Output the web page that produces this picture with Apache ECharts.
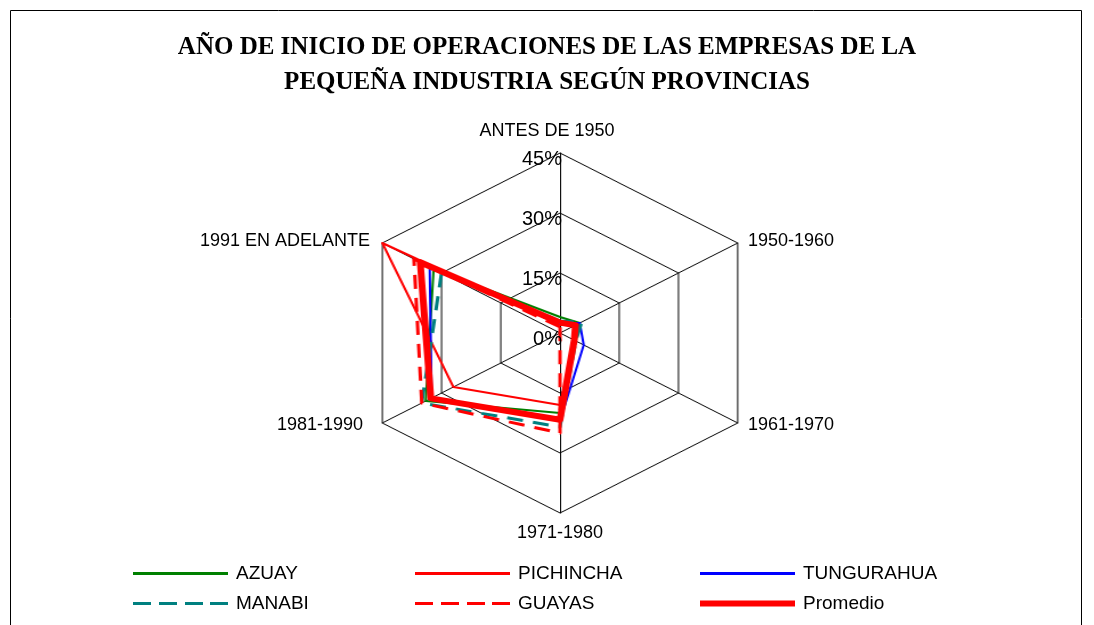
<!DOCTYPE html>
<html>
<head>
<meta charset="utf-8">
<script src="https://cdn.jsdelivr.net/npm/echarts@6/dist/echarts.min.js"></script>
<style>
  body { margin: 0; background: #fff; }
  #wrap { position: relative; width: 1094px; height: 625px; overflow: hidden; background: #fff; }
  /* la red radial del original está más ancha que alta */
  #radar { position: absolute; left: 0; top: 0; width: 1094px; height: 625px; transform: scaleX(1.14); transform-origin: 560px 0; }
  #texts { position: absolute; left: 0; top: 0; width: 1094px; height: 625px; }
</style>
</head>
<body>
<div id="wrap">
  <div id="radar"></div>
  <div id="texts"></div>
</div>
<script>
// categorías en orden cronológico
const categories = ['ANTES DE 1950', '1950-1960', '1961-1970', '1971-1980', '1981-1990', '1991 EN ADELANTE'];
// valores en %
const azuay      = [4,   5,   4,   20,   34,   32];
const pichincha  = [2,   4,   4,   18,   27,   45];
const tungurahua = [2.5, 5,   6,   22,   32.5, 33];
const manabi     = [3,   5.5, 4,   23.5, 35,   30];
const guayas     = [1.5, 0,   0,   25,   35,   37];
const promedio   = [2.6, 3.9, 3.6, 21.7, 32.7, 35.4];
const ticks = [0, 15, 30, 45];

const seriesNames = ['AZUAY', 'PICHINCHA', 'TUNGURAHUA', 'MANABI', 'GUAYAS', 'Promedio'];
const seriesData = [azuay, pichincha, tungurahua, manabi, guayas, promedio];

// estilos
const styles = [
  { color: '#008000', width: 2, type: 'solid' },
  { color: '#ff0000', width: 2, type: 'solid' },
  { color: '#0000ff', width: 2, type: 'solid' },
  { color: '#008080', width: 3, type: [14, 9] },
  { color: '#ff0000', width: 3, type: [14, 9] },
  { color: '#ff0000', width: 6, type: 'solid' }
];
const legendIcons = [
  'path://M0,0h95v3h-95z',
  'path://M0,0h95v3h-95z',
  'path://M0,0h95v3h-95z',
  'path://M0,0h18v3h-18zM26,0h18v3h-18zM52,0h18v3h-18zM77,0h18v3h-18z',
  'path://M0,0h18v3h-18zM26,0h18v3h-18zM52,0h18v3h-18zM77,0h18v3h-18z',
  'path://M0,0h95v6h-95z'
];
const legendPos = [
  { left: 133, top: 564, h: 3 }, { left: 415, top: 564, h: 3 }, { left: 700, top: 564, h: 3 },
  { left: 133, top: 594, h: 3 }, { left: 415, top: 594, h: 3 }, { left: 700, top: 594, h: 6 }
];
// nombres de los ejes
const namePos = [
  { x: 547, y: 131, align: 'center' },
  { x: 748, y: 241, align: 'left' },
  { x: 748, y: 425, align: 'left' },
  { x: 560, y: 533, align: 'center' },
  { x: 363, y: 425, align: 'right' },
  { x: 370, y: 241, align: 'right' }
];

// echarts coloca los ejes del radar en sentido antihorario
const order = [0, 5, 4, 3, 2, 1];
const maxVal = ticks[ticks.length - 1];
const font = 'Arial, "Liberation Sans", sans-serif';

function indicators(labelFirst) {
  return order.map(function (i, k) {
    const ind = { name: categories[i], min: 0, max: maxVal };
    if (labelFirst && k === 0) ind.axisLabel = { show: true };
    return ind;
  });
}
function values(arr) {
  return order.map(function (i) { return arr[i]; });
}

// capa del radar
const radarChart = echarts.init(document.getElementById('radar'));
radarChart.setOption({
  animation: false,
  radar: {
    center: [560, 333],
    radius: 180,
    shape: 'polygon',
    splitNumber: ticks.length - 1,
    indicator: indicators(false),
    axisName: { show: false },
    axisLine: { lineStyle: { color: '#000', width: 1 } },
    splitLine: { lineStyle: { color: '#000', width: 1 } },
    splitArea: { show: false },
    axisLabel: { show: false }
  },
  series: seriesNames.map(function (name, s) {
    return {
      name: name,
      type: 'radar',
      symbol: 'none',
      lineStyle: { color: styles[s].color, width: styles[s].width, type: styles[s].type },
      itemStyle: { color: styles[s].color },
      data: [{ value: values(seriesData[s]), name: name }]
    };
  })
});

// capa de textos: título, leyenda, etiquetas
const textChart = echarts.init(document.getElementById('texts'));
textChart.setOption({
  animation: false,
  title: {
    text: 'AÑO DE INICIO DE OPERACIONES DE LAS EMPRESAS DE LA\nPEQUEÑA INDUSTRIA SEGÚN PROVINCIAS',
    left: 'center',
    top: 30,
    padding: 0,
    textStyle: {
      fontFamily: '"Times New Roman", "Liberation Serif", serif',
      fontWeight: 'bold',
      fontSize: 25,
      lineHeight: 35,
      color: '#000'
    }
  },
  legend: seriesNames.map(function (name, s) {
    return {
      left: legendPos[s].left,
      top: legendPos[s].top,
      padding: 0,
      itemWidth: 95,
      itemHeight: legendPos[s].h,
      selectedMode: false,
      textStyle: { fontFamily: font, fontSize: 19, color: '#000', padding: [0, 0, 0, 3] },
      data: [{ name: name, icon: legendIcons[s], itemStyle: { color: styles[s].color } }]
    };
  }),
  radar: {
    center: [560, 333],
    radius: 180,
    shape: 'polygon',
    splitNumber: ticks.length - 1,
    indicator: indicators(true),
    axisName: { show: false },
    axisLine: { show: false },
    splitLine: { show: false },
    splitArea: { show: false },
    axisTick: { show: false },
    axisLabel: {
      show: false,
      margin: -2,
      verticalAlign: 'top',
      lineHeight: 12,
      formatter: '{value}%',
      fontFamily: font,
      fontSize: 20,
      color: '#000'
    }
  },
  series: seriesNames.map(function (name, s) {
    return {
      name: name,
      type: 'radar',
      symbol: 'none',
      silent: true,
      lineStyle: { opacity: 0 },
      itemStyle: { color: styles[s].color },
      data: [{ value: values(seriesData[s]), name: name }]
    };
  }),
  graphic: [
    {
      type: 'rect',
      silent: true,
      shape: { x: 10.5, y: 10.5, width: 1071, height: 700 },
      style: { fill: 'none', stroke: '#000', lineWidth: 1 }
    }
  ].concat(categories.map(function (c, i) {
    return {
      type: 'text',
      silent: true,
      x: namePos[i].x,
      y: namePos[i].y,
      style: {
        text: c,
        fontFamily: font,
        fontSize: 18,
        fill: '#000',
        align: namePos[i].align,
        verticalAlign: 'middle'
      }
    };
  }))
});
</script>
</body>
</html>
